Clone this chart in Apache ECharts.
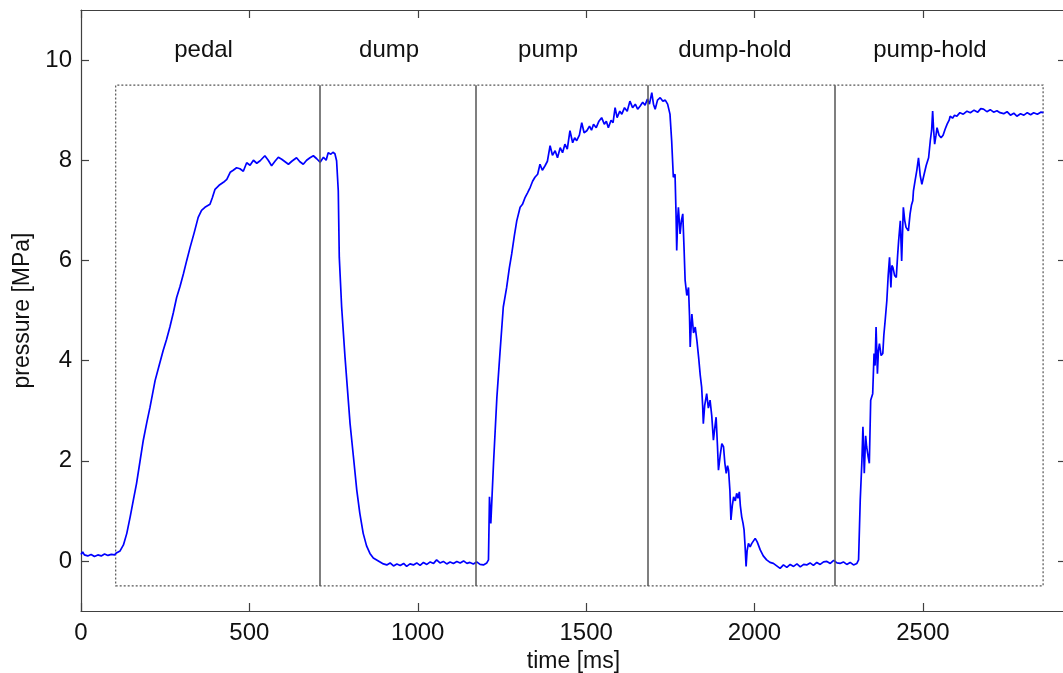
<!DOCTYPE html>
<html>
<head>
<meta charset="utf-8">
<script src="https://cdn.jsdelivr.net/npm/echarts@6/dist/echarts.min.js"></script>
<style>
  html, body { margin: 0; padding: 0; background: #fff; }
  #chart { width: 1063px; height: 673px; }
</style>
</head>
<body>
<div id="chart"></div>
<script>
// time [ms] and pressure [MPa]
const timeMs = [
  0, 5, 10, 20, 30, 40, 50, 60, 70, 80, 90, 100, 105, 110, 116, 126, 136, 146, 155, 165,
  175, 185, 195, 205, 220, 232, 244, 254, 264, 274, 284, 294, 304, 314, 324, 336, 348, 358, 368, 383,
  390, 398, 410, 423, 433, 443, 452, 462, 472, 482, 492, 502, 512, 522, 532, 539, 546, 556, 566, 576,
  586, 596, 606, 616, 626, 640, 650, 660, 670, 680, 690, 700, 710, 720, 728, 734, 742, 748, 754, 759,
  764, 767, 774, 784, 799, 809, 819, 828, 838, 848, 858, 868, 878, 888, 898, 908, 918, 928, 938, 948,
  958, 967, 977, 987, 997, 1007, 1017, 1027, 1037, 1047, 1056, 1066, 1076, 1086, 1096, 1106, 1116, 1126, 1136, 1146,
  1155, 1165, 1175, 1185, 1195, 1205, 1210, 1213, 1217, 1225, 1235, 1244, 1254, 1264, 1272, 1279, 1287, 1294, 1304, 1311,
  1319, 1326, 1334, 1341, 1348, 1356, 1363, 1370, 1378, 1385, 1393, 1400, 1408, 1415, 1423, 1430, 1437, 1444, 1452, 1460,
  1466, 1472, 1480, 1487, 1494, 1502, 1510, 1516, 1522, 1530, 1538, 1546, 1554, 1560, 1566, 1574, 1580, 1586, 1592, 1600,
  1606, 1614, 1622, 1630, 1638, 1646, 1653, 1660, 1668, 1675, 1682, 1688, 1695, 1700, 1705, 1712, 1720, 1728, 1735, 1742,
  1749, 1754, 1759, 1764, 1767, 1769, 1772, 1774, 1779, 1783, 1787, 1791, 1794, 1799, 1804, 1807, 1809, 1812, 1814, 1819,
  1824, 1829, 1834, 1839, 1843, 1846, 1848, 1852, 1858, 1863, 1868, 1873, 1878, 1882, 1886, 1890, 1893, 1898, 1903, 1908,
  1912, 1916, 1920, 1923, 1927, 1930, 1934, 1938, 1943, 1947, 1951, 1955, 1958, 1962, 1966, 1969, 1972, 1975, 1978, 1982,
  1987, 1992, 1997, 2002, 2008, 2017, 2026, 2036, 2046, 2056, 2066, 2076, 2086, 2096, 2106, 2116, 2126, 2136, 2146, 2155,
  2165, 2175, 2185, 2195, 2205, 2215, 2225, 2235, 2245, 2254, 2264, 2274, 2284, 2294, 2304, 2309, 2314, 2319, 2322, 2326,
  2330, 2333, 2337, 2341, 2345, 2351, 2355, 2358, 2361, 2365, 2368, 2371, 2376, 2381, 2384, 2388, 2393, 2397, 2401, 2405,
  2408, 2411, 2416, 2421, 2425, 2428, 2433, 2437, 2442, 2446, 2450, 2457, 2462, 2466, 2470, 2472, 2477, 2482, 2487, 2492,
  2497, 2503, 2510, 2517, 2522, 2526, 2529, 2532, 2535, 2539, 2542, 2548, 2554, 2560, 2566, 2572, 2578, 2581, 2588, 2594,
  2601, 2610, 2620, 2631, 2641, 2652, 2663, 2672, 2680, 2690, 2700, 2710, 2720, 2729, 2740, 2750, 2760, 2770, 2779, 2790,
  2800, 2810, 2820, 2829, 2840, 2850, 2858
];
const pressure = [
  0.13, 0.18, 0.12, 0.10, 0.13, 0.09, 0.12, 0.10, 0.14, 0.11, 0.13, 0.12, 0.16, 0.14, 0.20, 0.32, 0.55, 0.88, 1.20, 1.55,
  1.98, 2.41, 2.75, 3.07, 3.60, 3.90, 4.20, 4.42, 4.67, 4.95, 5.26, 5.48, 5.73, 6.00, 6.26, 6.55, 6.86, 7.00, 7.06, 7.12,
  7.25, 7.42, 7.50, 7.56, 7.62, 7.76, 7.80, 7.85, 7.83, 7.78, 7.95, 7.90, 8.00, 7.94, 7.99, 8.04, 8.09, 8.00, 7.89, 7.98,
  8.06, 8.02, 7.97, 7.92, 7.98, 8.05, 7.97, 7.92, 8.00, 8.05, 8.09, 8.03, 7.96, 8.06, 8.00, 8.15, 8.12, 8.16, 8.13, 7.99,
  7.39, 6.06, 5.07, 4.07, 2.74, 2.08, 1.41, 0.95, 0.55, 0.30, 0.15, 0.06, 0.02, -0.02, -0.06, -0.08, -0.04, -0.10, -0.06, -0.09,
  -0.05, -0.11, -0.06, -0.08, -0.04, -0.09, -0.03, -0.07, -0.02, -0.05, 0.02, -0.04, -0.01, -0.06, -0.02, -0.05, -0.01, -0.04, 0.00, -0.05,
  -0.03, -0.06, -0.02, -0.07, -0.08, -0.04, 0.02, 1.28, 0.75, 1.95, 3.27, 4.14, 5.07, 5.46, 5.85, 6.13, 6.50, 6.79, 7.06, 7.12,
  7.26, 7.35, 7.46, 7.58, 7.66, 7.72, 7.92, 7.80, 7.89, 7.98, 8.29, 8.10, 8.19, 8.05, 8.25, 8.15, 8.32, 8.22, 8.59, 8.35,
  8.45, 8.39, 8.50, 8.75, 8.55, 8.59, 8.68, 8.60, 8.72, 8.65, 8.78, 8.85, 8.72, 8.78, 8.65, 8.80, 8.75, 9.05, 8.85, 8.98,
  8.92, 9.05, 8.98, 9.18, 9.05, 9.12, 9.02, 9.08, 9.16, 9.10, 9.22, 9.12, 9.35, 9.12, 9.02, 9.20, 9.25, 9.18, 9.20, 9.12,
  8.92, 8.39, 7.66, 7.72, 6.93, 6.20, 6.85, 7.06, 6.53, 6.80, 6.93, 6.20, 5.60, 5.30, 5.46, 4.90, 4.27, 4.70, 4.93, 4.55,
  4.67, 4.40, 4.07, 3.70, 3.47, 3.10, 2.74, 3.10, 3.34, 3.05, 3.21, 2.90, 2.41, 2.65, 2.87, 2.30, 1.81, 2.10, 2.34, 2.28,
  1.95, 1.75, 1.90, 1.81, 1.40, 0.82, 1.10, 1.28, 1.20, 1.35, 1.25, 1.38, 1.10, 0.88, 0.75, 0.62, 0.30, -0.11, 0.20, 0.35,
  0.28, 0.35, 0.40, 0.45, 0.38, 0.22, 0.10, 0.02, -0.03, -0.05, -0.10, -0.15, -0.08, -0.13, -0.07, -0.11, -0.06, -0.12, -0.07, -0.08,
  -0.04, -0.09, -0.03, -0.07, -0.02, -0.01, -0.05, 0.01, -0.04, -0.05, -0.02, -0.07, -0.03, -0.08, -0.05, 0.02, 1.22, 2.01, 2.68, 1.75,
  2.50, 2.28, 2.10, 1.95, 3.21, 3.34, 4.14, 3.90, 4.67, 3.74, 4.20, 4.34, 4.10, 4.14, 4.50, 4.80, 5.20, 5.70, 6.06, 5.46,
  5.90, 5.86, 5.70, 5.66, 6.10, 6.39, 6.79, 5.99, 7.06, 6.80, 6.66, 6.59, 6.93, 7.10, 7.19, 7.39, 7.60, 7.80, 8.05, 7.70,
  7.52, 7.70, 7.90, 8.05, 8.39, 8.60, 8.98, 8.60, 8.32, 8.50, 8.65, 8.50, 8.45, 8.50, 8.62, 8.72, 8.80, 8.88, 8.84, 8.90,
  8.88, 8.95, 8.92, 8.98, 8.95, 9.00, 8.96, 9.03, 9.02, 8.97, 9.01, 8.96, 8.99, 8.95, 8.93, 8.97, 8.90, 8.94, 8.88, 8.93,
  8.90, 8.95, 8.91, 8.95, 8.92, 8.96, 8.95
];

const phaseNames = ['pedal', 'dump', 'pump', 'dump-hold', 'pump-hold'];
const phaseLabelX = [364, 915, 1387, 1942, 2521];
const phaseLabelY = [10.2, 10.2, 10.2, 10.2, 10.2];
const phaseBounds = [710, 1172, 1682, 2239];
const boxX = [103, 2857];
const boxY = [-0.5, 9.5];
const xTicks = [0, 500, 1000, 1500, 2000, 2500];
const yTicks = [0, 2, 4, 6, 8, 10];

const FONT = '"Liberation Sans", Arial, sans-serif';
const AXIS_COLOR = '#404040';
const TEXT_COLOR = '#111111';

const traceData = timeMs.map((t, i) => [t, pressure[i]]);
const labelData = phaseNames.map((n, i) => ({ name: n, value: [phaseLabelX[i], phaseLabelY[i]] }));
const boundLines = phaseBounds.map((x) => [{ coord: [x, boxY[0]] }, { coord: [x, boxY[1]] }]);

const xBase = {
  type: 'value',
  min: 0,
  max: 2925,
  splitLine: { show: false },
  axisLine: { show: true, onZero: false, lineStyle: { color: AXIS_COLOR, width: 1.2 } },
  axisTick: { show: true, inside: true, length: 8, customValues: xTicks, lineStyle: { color: AXIS_COLOR, width: 1.2 } },
};
const yBase = {
  type: 'value',
  min: -1,
  max: 11,
  splitLine: { show: false },
  axisLine: { show: true, onZero: false, lineStyle: { color: AXIS_COLOR, width: 1.2 } },
  axisTick: { show: true, inside: true, length: 8, customValues: yTicks, lineStyle: { color: AXIS_COLOR, width: 1.2 } },
};

const chart = echarts.init(document.getElementById('chart'), null, { renderer: 'canvas' });
chart.setOption({
  animation: false,
  backgroundColor: '#ffffff',
  grid: { left: 81, top: 10, width: 985, height: 601, containLabel: false, outerBoundsMode: 'none' },
  xAxis: [
    {
      ...xBase,
      position: 'bottom',
      name: 'time [ms]',
      nameLocation: 'middle',
      nameGap: 37,
      nameTextStyle: { fontFamily: FONT, fontSize: 23, color: TEXT_COLOR },
      axisLabel: {
        customValues: xTicks,
        formatter: (v) => String(v),
        margin: 10,
        fontFamily: FONT,
        fontSize: 24,
        color: TEXT_COLOR,
      },
    },
    { ...xBase, position: 'top', axisLabel: { show: false } },
  ],
  yAxis: [
    {
      ...yBase,
      position: 'left',
      name: 'pressure [MPa]',
      nameLocation: 'middle',
      nameGap: 38,
      nameTextStyle: { fontFamily: FONT, fontSize: 23, color: TEXT_COLOR },
      axisLabel: {
        customValues: yTicks,
        formatter: (v) => String(v),
        margin: 9,
        fontFamily: FONT,
        fontSize: 24,
        color: TEXT_COLOR,
      },
    },
    { ...yBase, position: 'right', axisLabel: { show: false } },
  ],
  series: [
    {
      name: 'box',
      type: 'line',
      data: [],
      silent: true,
      markArea: {
        silent: true,
        itemStyle: { color: 'rgba(0,0,0,0)', borderColor: '#555', borderWidth: 1.2, borderType: [2, 2] },
        data: [[{ coord: [boxX[0], boxY[0]] }, { coord: [boxX[1], boxY[1]] }]],
      },
      markLine: {
        silent: true,
        symbol: 'none',
        label: { show: false },
        lineStyle: { color: '#555', width: 1.5, type: 'solid' },
        data: boundLines,
      },
      z: 1,
    },
    {
      name: 'pressure',
      type: 'line',
      data: traceData,
      showSymbol: false,
      symbol: 'none',
      lineStyle: { color: '#0000ff', width: 1.7 },
      z: 3,
    },
    {
      name: 'phases',
      type: 'scatter',
      data: labelData,
      symbolSize: 0,
      silent: true,
      itemStyle: { opacity: 1 },
      label: {
        show: true,
        position: 'inside',
        formatter: (p) => p.name,
        fontFamily: FONT,
        fontSize: 24,
        color: TEXT_COLOR,
        opacity: 1,
      },
      z: 4,
    },
  ],
});
</script>
</body>
</html>
